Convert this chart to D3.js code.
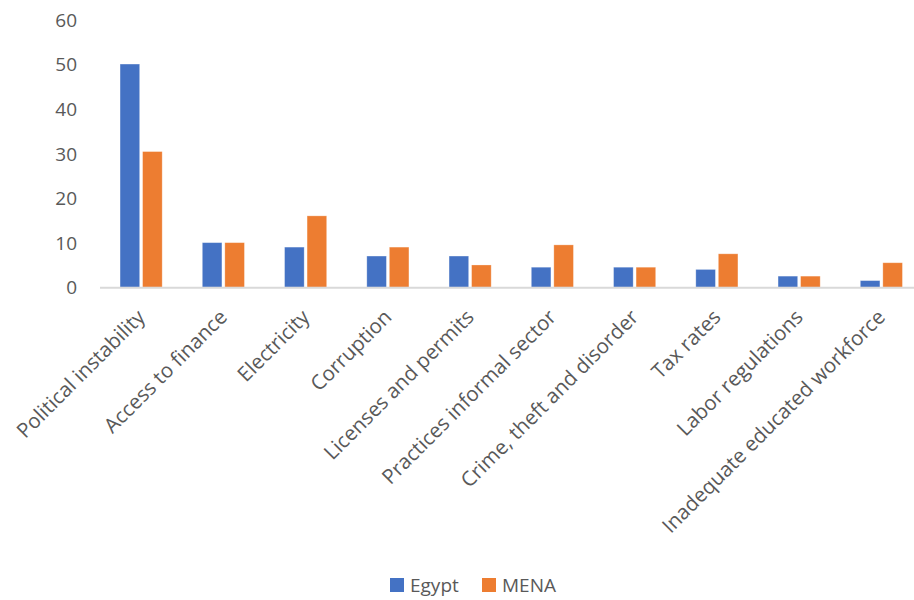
<!DOCTYPE html>
<html>
<head>
<meta charset="utf-8">
<script src="https://cdn.jsdelivr.net/npm/d3@7"></script>
<style>
  html, body { margin: 0; padding: 0; background: #fff; }
  svg { display: block; font-family: "Open Sans", "Noto Sans", sans-serif; }
</style>
</head>
<body>
<svg id="chart" width="914" height="600"></svg>
<script>
// Obstacles to doing business: share of firms naming each as the biggest obstacle
const categories = [
  "Political instability", "Access to finance", "Electricity", "Corruption",
  "Licenses and permits", "Practices informal sector", "Crime, theft and disorder",
  "Tax rates", "Labor regulations", "Inadequate educated workforce"
];
const seriesNames = ["Egypt", "MENA"];
const egypt = [50, 10, 9, 7, 7, 4.5, 4.5, 4, 2.5, 1.5];
const mena  = [30.4, 10, 16, 9, 5, 9.5, 4.5, 7.5, 2.5, 5.5];
const yTicks = [0, 10, 20, 30, 40, 50, 60];
const colors = ["#4472C4", "#ED7D31"];

const svg = d3.select("#chart");
const plotLeft = 100, plotRight = 922.5, plotTop = 19.4, plotBottom = 287.3;

const x = d3.scaleBand().domain(categories).range([plotLeft, plotRight]).paddingInner(0.488).paddingOuter(0.244);
const xs = d3.scaleBand().domain(seriesNames).range([0, x.bandwidth()]).paddingInner(0.13);
const y = d3.scaleLinear().domain([0, 60]).range([plotBottom, plotTop]);

// y-axis labels (no axis line, no gridlines)
const yAxis = d3.axisLeft(y).tickValues(yTicks).tickSize(0).tickPadding(0);
const yg = svg.append("g").attr("transform", "translate(77,0)").call(yAxis);
yg.select(".domain").remove();
yg.selectAll("text").attr("fill", "#595959").style("font-size", "19px")
  .style("font-family", "'Open Sans', sans-serif").attr("dy", "0.35em");

// bars
const rows = categories.map((c, i) => ({ c, vals: [egypt[i], mena[i]] }));
const groups = svg.append("g").selectAll("g").data(rows).join("g")
  .attr("transform", d => `translate(${x(d.c)},0)`);
groups.selectAll("rect").data(d => d.vals.map((v, j) => ({ s: seriesNames[j], v, j })))
  .join("rect")
  .attr("x", d => xs(d.s))
  .attr("width", xs.bandwidth())
  .attr("y", d => y(d.v))
  .attr("height", d => y(0) - y(d.v))
  .attr("fill", d => colors[d.j])
  .attr("stroke", "#fff").attr("stroke-opacity", 0.35).attr("stroke-width", 0.8);

// category axis line
svg.append("line").attr("x1", plotLeft).attr("x2", 914).attr("y1", plotBottom + 0.5).attr("y2", plotBottom + 0.5)
  .attr("stroke", "#d9d9d9").attr("stroke-width", 2);

// rotated category labels
svg.append("g").selectAll("text").data(categories).join("text")
  .attr("transform", d => `translate(${x(d) + x.bandwidth() / 2},${plotBottom + 26}) rotate(-45)`)
  .attr("text-anchor", "end")
  .attr("dy", "0.35em")
  .attr("fill", "#595959")
  .style("font-size", "20.5px")
  .text(d => d);

// legend
const legend = svg.append("g").attr("transform", "translate(390,578)");
const items = [{ n: seriesNames[0], c: colors[0], dx: 0 }, { n: seriesNames[1], c: colors[1], dx: 92 }];
const li = legend.selectAll("g").data(items).join("g").attr("transform", d => `translate(${d.dx},0)`);
li.append("rect").attr("width", 14).attr("height", 14).attr("fill", d => d.c);
li.append("text").attr("x", 20).attr("y", 7).attr("dy", "0.35em")
  .attr("fill", "#595959").style("font-size", "19px").text(d => d.n);
</script>
</body>
</html>
